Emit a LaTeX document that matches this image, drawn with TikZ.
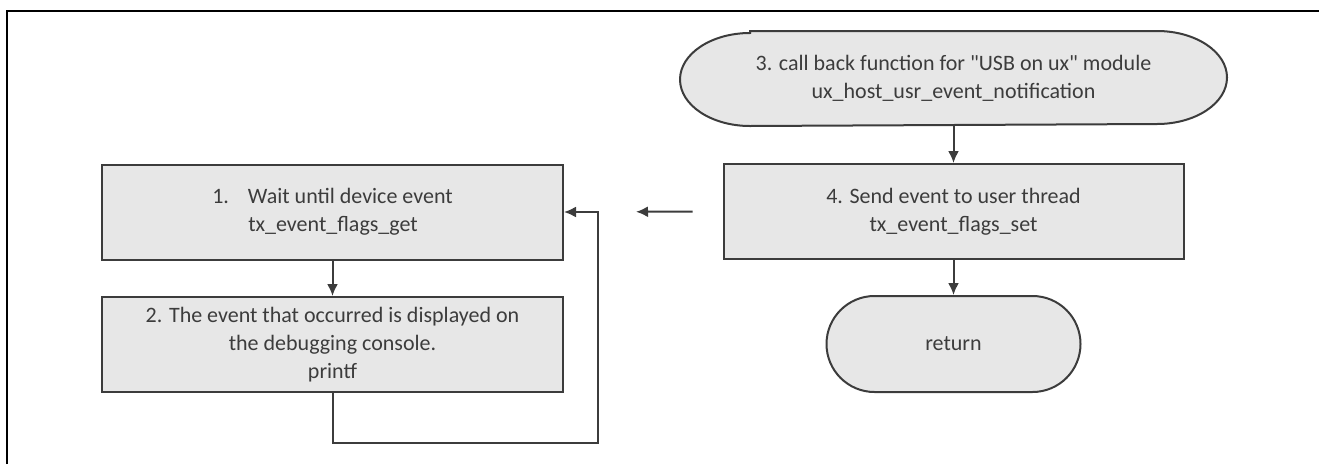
\documentclass[tikz,border=0pt]{standalone}
\usepackage{fontspec}
\setmainfont{Carlito}
\usetikzlibrary{arrows.meta,backgrounds}
\definecolor{inkgray}{HTML}{3C3C3C}
\definecolor{boxgray}{HTML}{E7E7E7}
\begin{document}
\begin{tikzpicture}
		[x=1pt,y=-1pt,
		box/.style={rectangle,draw=inkgray,line width=2pt,fill=boxgray,text=inkgray,inner sep=0pt,
			font=\fontsize{22}{28}\selectfont,align=center},
		stadium/.style={box,rounded corners=48pt},
		link/.style={->,draw=inkgray,line width=2pt},
		>={Latex[length=12pt,width=11pt]}]
		\useasboundingbox (0,0) rectangle (1319,464);
		\draw[line width=2.2pt] (7,464) -- (7,11) -- (1319,11);
		% left side
		\node[box,name=wait,minimum width=461pt,minimum height=95pt,align=left] at (332.5,212)
			{1.\hspace{19pt}Wait until device event\\\hspace{36pt}tx\_event\_flags\_get};
		\node[box,name=show,minimum width=461pt,minimum height=95pt] at (332.5,344.5)
			{2. The event that occurred is displayed on\\the debugging console.\\printf};
		\coordinate (loop) at (598,443);
		% right side
		\node[box,name=cb,draw=none,fill=none,minimum width=545pt,minimum height=93pt] at (953.5,78.5)
			{3. call back function for \textquotedbl USB on ux\textquotedbl{} module\\ux\_host\_usr\_event\_notification};
		\node[box,name=send,minimum width=460pt,minimum height=95pt] at (953.5,211.5)
			{4. Send event to user thread\\tx\_event\_flags\_set};
		\node[stadium,name=ret,minimum width=254pt,minimum height=96pt] at (953.5,344)
			{return};
		\begin{pgfonlayer}{background}
			\draw[draw=inkgray,line width=2pt,fill=boxgray]
				([xshift=70pt]cb.north west) -- ([xshift=-70pt]cb.north east)
				arc[start angle=90,end angle=-90,x radius=70pt,y radius=46.5pt]
				-- ([xshift=70pt]cb.south west)
				arc[start angle=270,end angle=90,x radius=70pt,y radius=46.5pt] -- cycle;
		\end{pgfonlayer}
		\draw[link] (wait) -- (show);
		\draw[link] (show.south) |- (loop) |- (wait.east);
		\draw[link] (cb) -- (send);
		\draw[link] (send) -- (ret);
		\draw[link,shorten <=30pt,shorten >=72pt] (send.west) -- (wait.east);
	\end{tikzpicture}
\end{document}
